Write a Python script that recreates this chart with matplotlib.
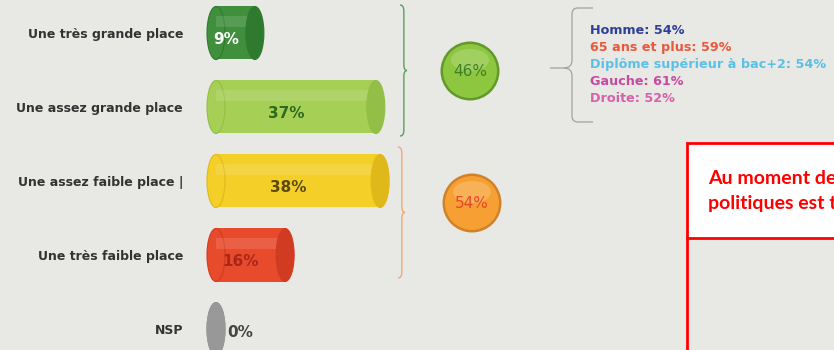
import matplotlib
matplotlib.use('Agg')
import matplotlib.pyplot as plt
from matplotlib.patches import Ellipse, Circle, Rectangle, PathPatch
from matplotlib.path import Path

# data
categories = ['Une très grande place', 'Une assez grande place',
              'Une assez faible place |', 'Une très faible place', 'NSP']
values = [9, 37, 38, 16, 0]
bar_colors = ['#3f8f3c', '#a6cf55', '#f3cf27', '#e84a2c', '#a8a8a8']
cap_colors = ['#2f7a2f', '#93bf47', '#e0b81a', '#d13b21', '#989898']
label_colors = ['#ffffff', '#2e6a1e', '#5c4a10', '#a8261a', '#444444']

groups = [[0, 1], [2, 3]]
group_fill = ['#8dc63f', '#f6a033']
group_edge = ['#62992a', '#d0822a']
group_text = ['#3f7f2a', '#e8472a']
brace_colors = ['#5aa05a', '#f0a878']

detail_lines = ['Homme: 54%', '65 ans et plus: 59%',
                'Diplôme supérieur à bac+2: 54%', 'Gauche: 61%', 'Droite: 52%']
detail_colors = ['#2d3f96', '#e8583a', '#5cc0e6', '#c64aa0', '#d562a8']

note_lines = ['Au moment de', 'politiques est t']

bg = '#e8e8e4'
W, H = 834, 350

fig = plt.figure(figsize=(W / 100, H / 100), dpi=100, facecolor=bg)

# bars axes: 0 % at x=216 px, 4.32 px per point, rows 74 px apart
px_per_pt = 4.32
zero_px = 216
ax_left = 190
ax = fig.add_axes([ax_left / W, 0, (W - ax_left) / W, 1])
ax.set_facecolor('none')
ax.set_xlim(-(zero_px - ax_left) / px_per_pt, (W - zero_px) / px_per_pt)
ax.set_ylim((H - 33) / 74, -33 / 74)
for s in ax.spines.values():
    s.set_visible(False)
ax.set_xticks([])

ypos = list(range(len(categories)))
bh = 53 / 74
cw = 18 / px_per_pt

for y, v, c, cc in zip(ypos, values, bar_colors, cap_colors):
    ax.barh(y, v, height=bh, color=c, zorder=2)
    ax.barh(y - bh * 0.22, v, height=bh * 0.2, color='white', alpha=0.12,
            zorder=3)
    ax.add_patch(Ellipse((0, y), cw, bh, facecolor=c, edgecolor=cc,
                         lw=0.8, zorder=2))
    ax.add_patch(Ellipse((v, y), cw, bh, facecolor=cc, edgecolor=cc,
                         lw=0.8, zorder=4))

for y, v, tc in zip(ypos, values, label_colors):
    if v < 5:
        ax.text(cw / 2 + 0.6, y + 0.05, f'{v}%', ha='left', va='center',
                fontsize=11, fontweight='bold', color=tc, zorder=5)
    else:
        ax.text(0.5 * v - 2.2, y + 0.09, f'{v}%', ha='center', va='center',
                fontsize=11, fontweight='bold', color=tc, zorder=5)

ax.set_yticks(ypos)
ax.set_yticklabels(categories, fontsize=9, fontweight='bold', color='#333333')
ax.tick_params(axis='y', length=0, pad=5)

# overlay in pixel coordinates for braces, circles and notes
ov = fig.add_axes([0, 0, 1, 1])
ov.set_xlim(0, W)
ov.set_ylim(H, 0)
ov.axis('off')
ov.patch.set_alpha(0)


def right_brace(x, y0, y1, d, color):
    ym = (y0 + y1) / 2
    xm = x + d * 0.55
    r = 6
    verts = [(x, y0), (xm, y0), (xm, y0 + r),
             (xm, ym - r),
             (xm, ym), (x + d, ym),
             (xm, ym), (xm, ym + r),
             (xm, y1 - r),
             (xm, y1), (x, y1)]
    codes = [Path.MOVETO, Path.CURVE3, Path.CURVE3, Path.LINETO,
             Path.CURVE3, Path.CURVE3, Path.CURVE3, Path.CURVE3,
             Path.LINETO, Path.CURVE3, Path.CURVE3]
    ov.add_patch(PathPatch(Path(verts, codes), fill=False, edgecolor=color,
                           lw=1.0))


right_brace(400, 5, 136, 7, brace_colors[0])
right_brace(398, 147, 278, 7, brace_colors[1])

centers = [(470, 71), (472, 203)]
for (cx, cy), g, fc, ec, tc in zip(centers, groups, group_fill, group_edge,
                                   group_text):
    ov.add_patch(Circle((cx, cy), 29.5, facecolor=ec, edgecolor='none'))
    ov.add_patch(Circle((cx, cy), 27, facecolor=fc, edgecolor='none'))
    ov.add_patch(Ellipse((cx, cy - 11), 38, 22, facecolor='white',
                         alpha=0.18, edgecolor='none'))
    total = sum(values[i] for i in g)
    ov.text(cx, cy + 1, f'{total}%', ha='center', va='center', fontsize=11,
            color=tc)

# grey bracket next to the details
gverts = [(593, 8), (578, 8), (572, 8), (572, 14), (572, 60), (572, 68),
          (564, 68), (550, 68),
          (564, 68), (572, 68), (572, 76), (572, 116), (572, 122),
          (578, 122), (593, 122)]
gcodes = [Path.MOVETO, Path.LINETO, Path.CURVE3, Path.CURVE3, Path.LINETO,
          Path.CURVE3, Path.CURVE3, Path.LINETO,
          Path.MOVETO, Path.CURVE3, Path.CURVE3, Path.LINETO, Path.CURVE3,
          Path.CURVE3, Path.LINETO]
ov.add_patch(PathPatch(Path(gverts, gcodes), fill=False, edgecolor='#a8a8a8',
                       lw=1.0))

for i, (t, c) in enumerate(zip(detail_lines, detail_colors)):
    ov.text(590, 31 + i * 16.8, t, ha='left', va='center', fontsize=9.2,
            fontweight='bold', color=c)

# red framed note (cropped at the right edge, as in the source)
ov.add_patch(Rectangle((687, 143), 200, 95, facecolor='white',
                       edgecolor='#ff0000', lw=2))
ov.plot([687, 687], [238, H + 5], color='#ff0000', lw=2)
for i, t in enumerate(note_lines):
    ov.text(708, 178 + i * 25, t, ha='left', va='center', fontsize=14,
            fontweight='bold', color='#ff0000', family='Lato')

fig.savefig('out.png', dpi=100, facecolor=bg)
